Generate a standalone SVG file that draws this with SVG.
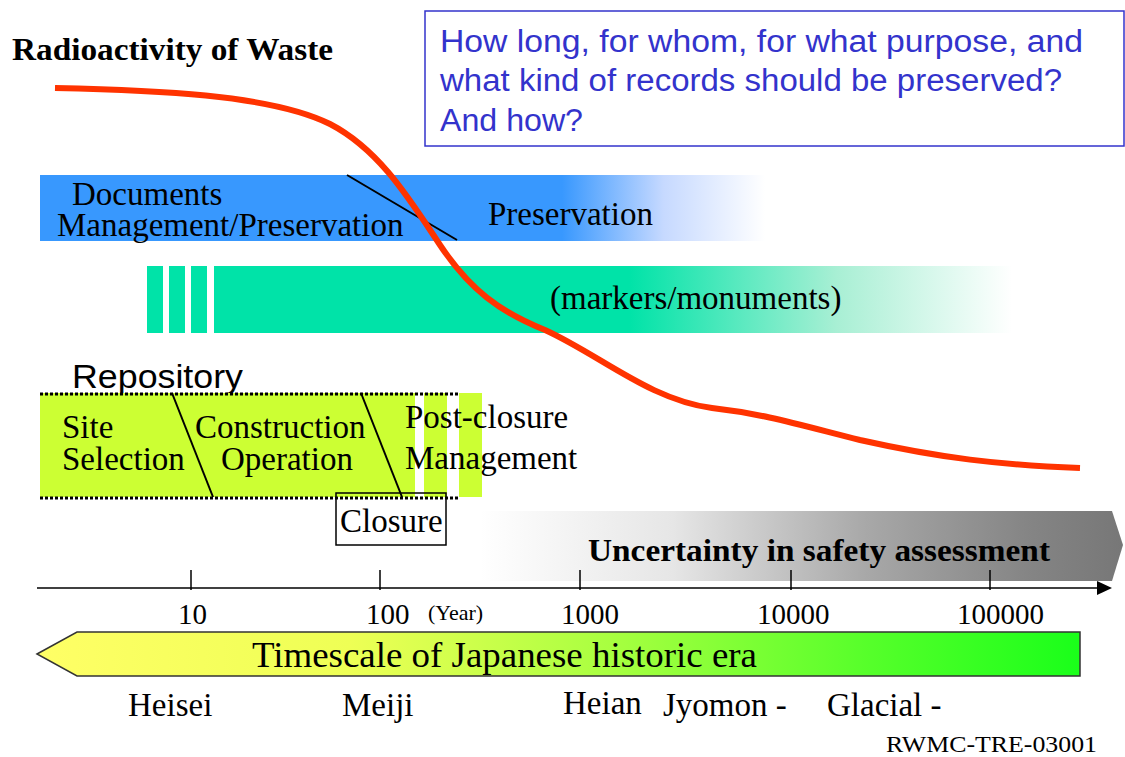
<svg xmlns="http://www.w3.org/2000/svg" width="1125" height="757" viewBox="0 0 1125 757">
<style>
.serif{font-family:"Liberation Serif","Times New Roman",serif;fill:#000}
.lbl{font-size:33px}
.num{font-size:29px}
.sans{font-family:"Liberation Sans",Arial,sans-serif}
.q{font-size:31px;fill:#3333cc}
.dot{stroke:#000;stroke-width:3;stroke-dasharray:3 2;fill:none}
.thin{stroke:#000;stroke-width:2;fill:none}
</style>
<defs>
<linearGradient id="gBlue" x1="40" y1="0" x2="765" y2="0" gradientUnits="userSpaceOnUse">
<stop offset="0" stop-color="#3898fe"/>
<stop offset="0.72" stop-color="#3898fe"/>
<stop offset="0.86" stop-color="#c6d9ff"/>
<stop offset="1" stop-color="#ffffff"/>
</linearGradient>
<linearGradient id="gGreen" x1="214" y1="0" x2="1012" y2="0" gradientUnits="userSpaceOnUse">
<stop offset="0" stop-color="#00e3a8"/>
<stop offset="0.52" stop-color="#00e3a8"/>
<stop offset="0.78" stop-color="#a8efd4"/>
<stop offset="1" stop-color="#ffffff"/>
</linearGradient>
<linearGradient id="gGray" x1="480" y1="0" x2="1123" y2="0" gradientUnits="userSpaceOnUse">
<stop offset="0" stop-color="#ffffff"/>
<stop offset="0.3" stop-color="#e6e6e6"/>
<stop offset="0.6" stop-color="#a8a8a8"/>
<stop offset="0.85" stop-color="#858585"/>
<stop offset="1" stop-color="#777777"/>
</linearGradient>
<linearGradient id="gTime" x1="37" y1="0" x2="1080" y2="0" gradientUnits="userSpaceOnUse">
<stop offset="0" stop-color="#ffff66"/>
<stop offset="0.3" stop-color="#eeff55"/>
<stop offset="0.55" stop-color="#a8ff40"/>
<stop offset="0.8" stop-color="#55ff2a"/>
<stop offset="1" stop-color="#1aff1a"/>
</linearGradient>
<marker id="arr" markerWidth="15" markerHeight="14" refX="1" refY="7" orient="auto" markerUnits="userSpaceOnUse">
<path d="M0,0 L15,7 L0,14 Z" fill="#000"/>
</marker>
</defs>

<g id="title">
<text class="serif" x="12" y="60" font-size="32" font-weight="bold" textLength="321" lengthAdjust="spacingAndGlyphs">Radioactivity of Waste</text>
</g>

<g id="question">
<rect x="425" y="11" width="699" height="135" fill="#fff" stroke="#3333cc" stroke-width="1.5"/>
<text class="sans q" x="440" y="52" textLength="643" lengthAdjust="spacingAndGlyphs">How long, for whom, for what purpose, and</text>
<text class="sans q" x="440" y="91" textLength="622" lengthAdjust="spacingAndGlyphs">what kind of records should be preserved?</text>
<text class="sans q" x="440" y="131" textLength="143" lengthAdjust="spacingAndGlyphs">And how?</text>
</g>

<g id="documents">
<rect x="40" y="175" width="725" height="66" fill="url(#gBlue)"/>
<text class="serif lbl" x="72" y="205">Documents</text>
<text class="serif lbl" x="57" y="236">Management/Preservation</text>
<text class="serif lbl" x="488" y="225">Preservation</text>
<line x1="347" y1="175" x2="457" y2="240" stroke="#000" stroke-width="2"/>
</g>

<g id="markers">
<rect x="147" y="266" width="16" height="67" fill="#00e3a8"/>
<rect x="169" y="266" width="16" height="67" fill="#00e3a8"/>
<rect x="191" y="266" width="16" height="67" fill="#00e3a8"/>
<rect x="214" y="266" width="798" height="67" fill="url(#gGreen)"/>
<text class="serif lbl" x="550" y="309">(markers/monuments)</text>
</g>

<g id="repository">
<text class="sans" x="72" y="388" font-size="34" textLength="171" lengthAdjust="spacingAndGlyphs">Repository</text>
<rect x="40" y="393" width="375" height="104" fill="#ccff33"/>
<rect x="424" y="393" width="23" height="104" fill="#ccff33"/>
<rect x="459" y="393" width="23" height="104" fill="#ccff33"/>
<line class="dot" x1="40" y1="394" x2="460" y2="394"/>
<line class="dot" x1="40" y1="498" x2="460" y2="498"/>
<line class="thin" x1="172" y1="393" x2="213" y2="497"/>
<line class="thin" x1="361" y1="393" x2="402" y2="497"/>
<text class="serif lbl" x="62" y="438">Site</text>
<text class="serif lbl" x="62" y="470">Selection</text>
<text class="serif lbl" x="195" y="438">Construction</text>
<text class="serif lbl" x="221" y="470">Operation</text>
<text class="serif lbl" x="405" y="428">Post-closure</text>
<text class="serif lbl" x="405" y="469">Management</text>
</g>

<g id="closure">
<rect x="336" y="493" width="110" height="52" fill="none" stroke="#000" stroke-width="1.5"/>
<text class="serif lbl" x="340" y="532">Closure</text>
</g>

<g id="uncertainty">
<path d="M480,511 L1112,511 L1123,545 L1112,581 L480,581 Z" fill="url(#gGray)"/>
<text class="serif" x="588" y="561" font-size="32" font-weight="bold" textLength="462" lengthAdjust="spacingAndGlyphs">Uncertainty in safety assessment</text>
</g>

<g id="connectors">
<path d="M55,88 C150,90 270,94 330,124 C380,150 410,200 440,245 C470,290 500,312 545,330 C600,355 650,400 712,408 C765,414 800,425 860,440 C940,458 1000,465 1080,468" fill="none" stroke="#ff3300" stroke-width="6"/>
<line x1="37" y1="588" x2="1098" y2="588" stroke="#000" stroke-width="1.5" marker-end="url(#arr)"/>
<line x1="191" y1="570" x2="191" y2="590" stroke="#000" stroke-width="1.5"/>
<line x1="380" y1="570" x2="380" y2="590" stroke="#000" stroke-width="1.5"/>
<line x1="580" y1="570" x2="580" y2="590" stroke="#000" stroke-width="1.5"/>
<line x1="791" y1="570" x2="791" y2="590" stroke="#000" stroke-width="1.5"/>
<line x1="990" y1="570" x2="990" y2="590" stroke="#000" stroke-width="1.5"/>
</g>

<g id="axis-labels">
<text class="serif num" x="178" y="624">10</text>
<text class="serif num" x="366" y="624">100</text>
<text class="serif" x="428" y="620" font-size="22">(Year)</text>
<text class="serif num" x="561" y="624">1000</text>
<text class="serif num" x="757" y="624">10000</text>
<text class="serif num" x="957" y="624">100000</text>
</g>

<g id="timescale">
<path d="M37,654 L77,632 L1080,632 L1080,676 L77,676 Z" fill="url(#gTime)" stroke="#333" stroke-width="1.5"/>
<text class="serif" x="252" y="667" font-size="36" textLength="505" lengthAdjust="spacingAndGlyphs">Timescale of Japanese historic era</text>
</g>

<g id="eras">
<text class="serif lbl" x="128" y="716">Heisei</text>
<text class="serif lbl" x="342" y="716">Meiji</text>
<text class="serif lbl" x="563" y="714">Heian</text>
<text class="serif lbl" x="663" y="716">Jyomon -</text>
<text class="serif lbl" x="827" y="716">Glacial -</text>
</g>

<g id="ref">
<text class="serif" x="886" y="752" font-size="23" textLength="211" lengthAdjust="spacingAndGlyphs">RWMC-TRE-03001</text>
</g>
</svg>
